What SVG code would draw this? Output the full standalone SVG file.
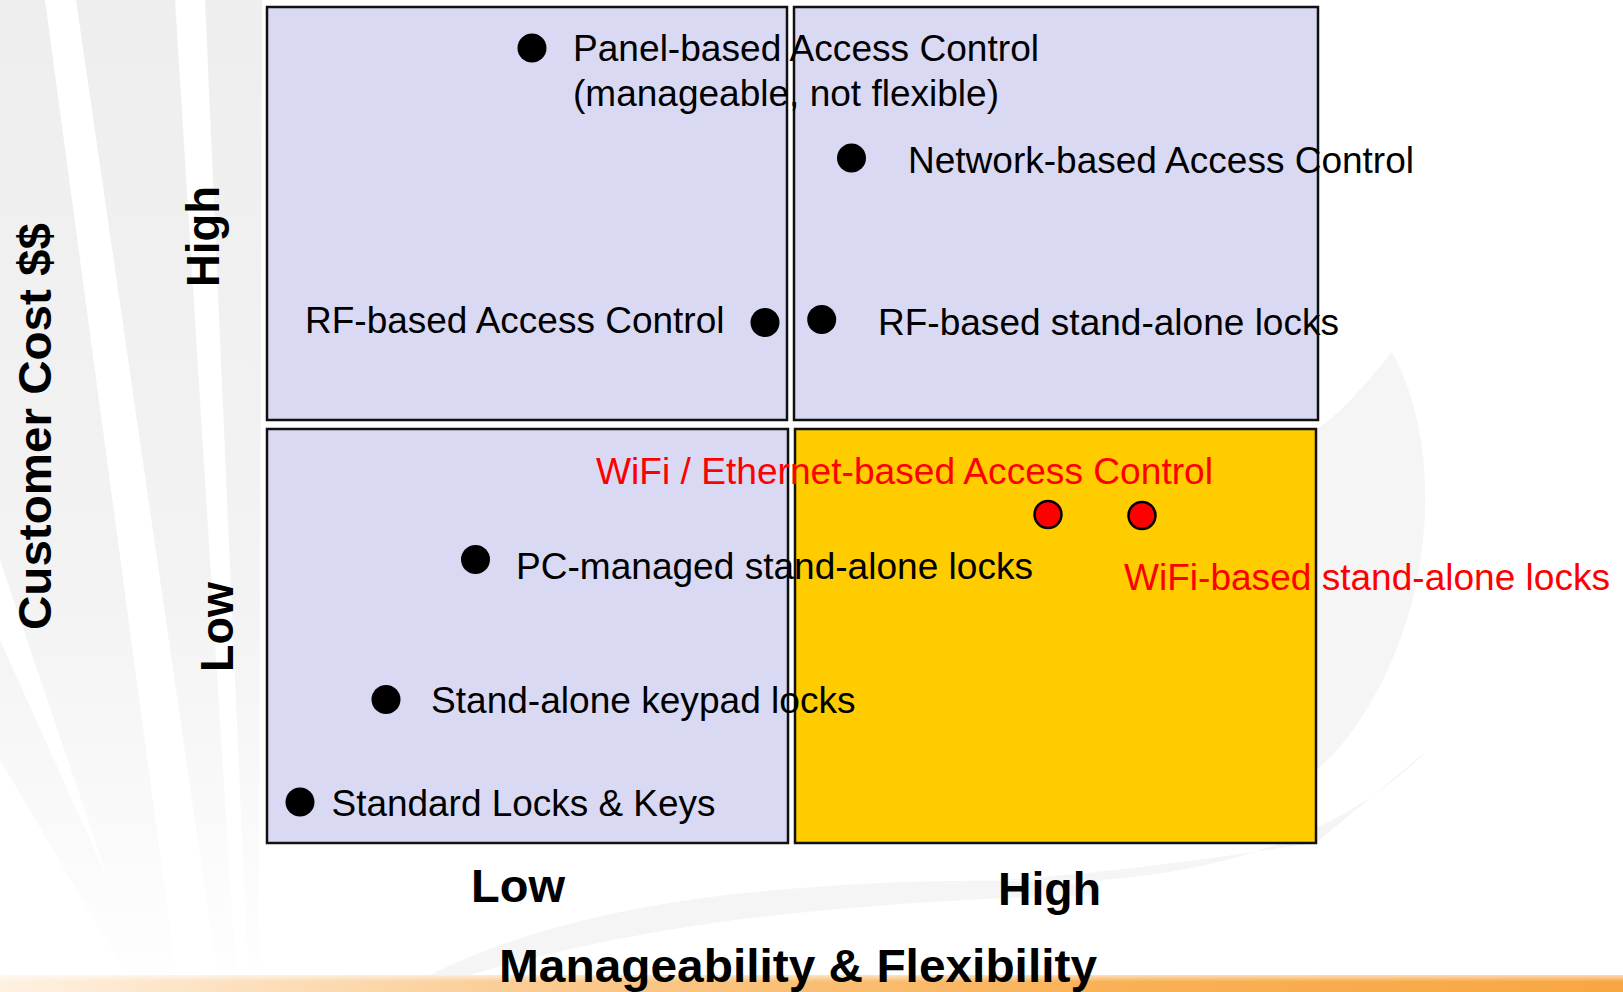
<svg xmlns="http://www.w3.org/2000/svg" width="1623" height="992" viewBox="0 0 1623 992">
  <defs>
    <linearGradient id="bar" x1="0" y1="0" x2="1" y2="0">
      <stop offset="0" stop-color="#FEF1E2"/>
      <stop offset="0.35" stop-color="#FAC98C"/>
      <stop offset="0.7" stop-color="#F9B054"/>
      <stop offset="1" stop-color="#F8A642"/>
    </linearGradient>
    <linearGradient id="barV" x1="0" y1="0" x2="0" y2="1">
      <stop offset="0" stop-color="#FFFFFF" stop-opacity="0.6"/>
      <stop offset="0.4" stop-color="#FFFFFF" stop-opacity="0"/>
    </linearGradient>
    <linearGradient id="rayG" gradientUnits="userSpaceOnUse" x1="0" y1="0" x2="0" y2="1000">
      <stop offset="0" stop-color="#EEEEEE"/>
      <stop offset="0.6" stop-color="#F3F3F3"/>
      <stop offset="1" stop-color="#FFFFFF"/>
    </linearGradient>
  </defs>
  <style>
    .q { stroke: #111111; stroke-width: 2.5; }
    .lav { fill: #D9D9F3; }
    .yel { fill: #FFCC00; }
    .dot { fill: #000000; }
    .rdot { fill: #FF0000; stroke: #000000; stroke-width: 2.5; }
    .t { font-family: "Liberation Sans", Arial, sans-serif; font-size: 36px; fill: #000000; }
    .r { fill: #FF0000; }
    .b { font-family: "Liberation Sans", Arial, sans-serif; font-size: 47px; font-weight: bold; fill: #000000; }
    .ray { fill: url(#rayG); }
    .faint { fill: #F5F5F5; }
  </style>

  <!-- background -->
  <rect x="0" y="0" width="1623" height="992" fill="#FFFFFF"/>
  <g id="background">
    <polygon class="ray" points="0,0 45,0 200,1150 0,560"/>
    <polygon class="ray" points="76,0 175,0 250,1200"/>
    <polygon class="ray" points="205,0 262,0 258,1200"/>
    <polygon class="ray" points="0,640 0,760 230,1150"/>
    <path class="faint" d="M1392,352 C1440,440 1430,560 1400,640 C1370,720 1330,760 1316,770 L1316,430 C1330,420 1345,410 1392,352 Z"/>
    <path class="faint" d="M1430,748 C1360,820 1250,870 1100,880 L1000,880 C1150,870 1260,850 1316,843 Z"/>
    <path class="faint" d="M430,975 C520,930 640,900 800,888 C900,880 1000,878 1100,885 L1100,895 C950,898 800,910 700,925 C600,940 520,960 470,975 Z"/>
    <rect x="0" y="975" width="1623" height="17" fill="url(#bar)"/>
    <rect x="0" y="975" width="1623" height="17" fill="url(#barV)"/>
  </g>

  <!-- quadrants -->
  <g id="quadrant-high-low">
    <rect class="q lav" x="267" y="7" width="520" height="413"/>
  </g>
  <g id="quadrant-high-high">
    <rect class="q lav" x="794" y="7" width="524" height="413"/>
  </g>
  <g id="quadrant-low-low">
    <rect class="q lav" x="267" y="429" width="521" height="414"/>
  </g>
  <g id="quadrant-low-high">
    <rect class="q yel" x="795" y="429" width="521" height="414"/>
  </g>

  <!-- connectors (none) -->
  <g id="connectors"></g>

  <!-- items -->
  <g id="panel-based">
    <circle class="dot" cx="532" cy="48" r="14.5"/>
    <text class="t" x="573" y="61" textLength="466" lengthAdjust="spacingAndGlyphs">Panel-based Access Control</text>
    <text class="t" x="573" y="105.5" textLength="426" lengthAdjust="spacingAndGlyphs">(manageable, not flexible)</text>
  </g>
  <g id="network-based">
    <circle class="dot" cx="851.5" cy="158" r="14.5"/>
    <text class="t" x="908" y="173" textLength="506" lengthAdjust="spacingAndGlyphs">Network-based Access Control</text>
  </g>
  <g id="rf-access-control">
    <circle class="dot" cx="765" cy="322.5" r="14.5"/>
    <text class="t" x="305" y="332.5" textLength="419.5" lengthAdjust="spacingAndGlyphs">RF-based Access Control</text>
  </g>
  <g id="rf-standalone">
    <circle class="dot" cx="821.7" cy="319.5" r="14.5"/>
    <text class="t" x="878" y="334.5" textLength="461" lengthAdjust="spacingAndGlyphs">RF-based stand-alone locks</text>
  </g>
  <g id="wifi-ethernet">
    <circle class="rdot" cx="1048" cy="514.5" r="13.5"/>
    <text class="t r" x="596" y="484" textLength="617" lengthAdjust="spacingAndGlyphs">WiFi / Ethernet-based Access Control</text>
  </g>
  <g id="wifi-standalone">
    <circle class="rdot" cx="1142" cy="515.5" r="13.5"/>
    <text class="t r" x="1124" y="590" textLength="486" lengthAdjust="spacingAndGlyphs">WiFi-based stand-alone locks</text>
  </g>
  <g id="pc-managed">
    <circle class="dot" cx="475.5" cy="559.5" r="14.5"/>
    <text class="t" x="516" y="578.5" textLength="517" lengthAdjust="spacingAndGlyphs">PC-managed stand-alone locks</text>
  </g>
  <g id="keypad">
    <circle class="dot" cx="386" cy="699.5" r="14.5"/>
    <text class="t" x="431" y="712.5" textLength="424.5" lengthAdjust="spacingAndGlyphs">Stand-alone keypad locks</text>
  </g>
  <g id="standard">
    <circle class="dot" cx="300" cy="802" r="14.5"/>
    <text class="t" x="331.5" y="816" textLength="384" lengthAdjust="spacingAndGlyphs">Standard Locks &amp; Keys</text>
  </g>

  <!-- axes -->
  <g id="axis-y">
    <text class="b" transform="translate(51,630) rotate(-90)" textLength="407" lengthAdjust="spacingAndGlyphs">Customer Cost $$</text>
    <text class="b" transform="translate(219,287) rotate(-90)" textLength="101" lengthAdjust="spacingAndGlyphs">High</text>
    <text class="b" transform="translate(233,672) rotate(-90)" textLength="90" lengthAdjust="spacingAndGlyphs">Low</text>
  </g>
  <g id="axis-x">
    <text class="b" x="471" y="902" textLength="94" lengthAdjust="spacingAndGlyphs">Low</text>
    <text class="b" x="998" y="905" textLength="103" lengthAdjust="spacingAndGlyphs">High</text>
    <text class="b" x="499" y="982" textLength="598" lengthAdjust="spacingAndGlyphs">Manageability &amp; Flexibility</text>
  </g>
</svg>
